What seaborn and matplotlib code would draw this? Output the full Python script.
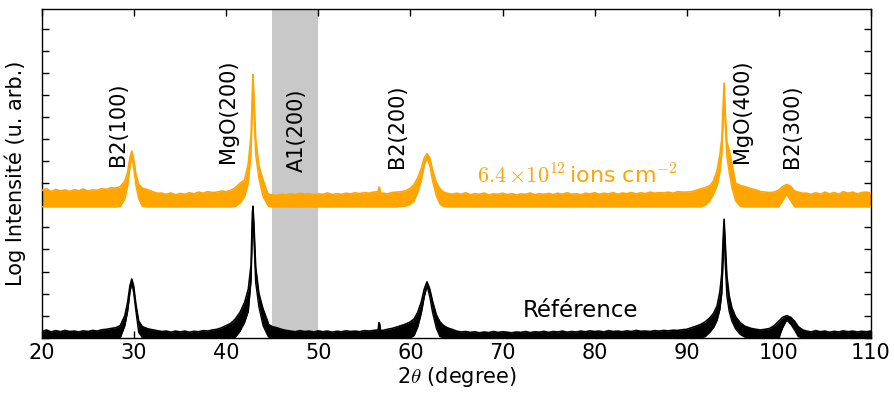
import numpy as np
import pandas as pd
import matplotlib
matplotlib.use("Agg")
import matplotlib.pyplot as plt
import seaborn as sns

# ---------------- data ----------------
two_theta = [
    20.0, 20.5, 21.0, 21.5, 22.0, 22.5, 23.0, 23.5, 24.0, 24.5, 25.0, 25.5, 26.0, 26.5, 27.0, 27.5,
    28.0, 28.5, 29.0, 29.3, 29.55, 29.75, 29.95, 30.2, 30.5, 30.9, 31.5, 32.0, 32.5,
    33.0, 33.5, 34.0, 34.5, 35.0, 35.5, 36.0, 36.5, 37.0, 37.5, 38.0, 38.5, 39.0, 39.5,
    40.0, 40.5, 41.0, 41.5, 42.0, 42.4, 42.7, 42.84, 42.9, 43.0, 43.2, 43.55, 44.0, 44.45, 44.6, 45.0,
    45.5, 46.0, 46.5, 47.0, 47.5, 48.0, 48.5, 49.0, 49.5, 50.0, 50.5, 51.0, 51.5, 52.0, 52.5, 53.0,
    53.5, 54.0, 54.5, 55.0, 55.5, 56.0, 56.5,
    56.58, 56.66, 56.75,
    57.0, 57.5, 58.0, 58.5, 59.0, 59.5, 60.0, 60.4, 60.8, 61.2, 61.5, 61.8, 62.1, 62.4, 62.8, 63.2,
    63.6, 64.0, 64.5,
    65.0, 65.5, 66.0, 66.5, 67.0, 67.5, 68.0, 68.5, 69.0, 69.5,
    70.0, 70.5, 71.0, 71.5, 72.0, 72.5, 73.0, 73.5, 74.0, 74.5,
    75.0, 75.5, 76.0, 76.5, 77.0, 77.5, 78.0, 78.5, 79.0, 79.5,
    80.0, 80.5, 81.0, 81.5, 82.0, 82.5, 83.0, 83.5, 84.0, 84.5,
    85.0, 85.5, 86.0, 86.5, 87.0, 87.5, 88.0, 88.5, 89.0, 89.5,
    90.0, 90.5, 91.0, 91.5, 92.0, 92.5, 92.9, 93.3, 93.6, 93.8, 93.95, 94.05, 94.15, 94.35, 94.6,
    94.9, 95.3, 95.8, 96.3, 97.0, 97.5, 98.0, 98.5, 99.0, 99.5, 100.0, 100.4, 100.85, 101.3, 101.7,
    102.1, 102.6,
    103.0, 103.5, 104.0, 104.5, 105.0, 105.5, 106.0, 106.5, 107.0, 107.5, 108.0, 108.5, 109.0, 109.5, 110.0,
]

# Reference sample (black): lower and upper edge of the noisy trace
ref_low = [
    0, 0, 0, 0, 0, 0, 0, 0, 0, 0, 0, 0, 0, 0, 0, 0,
    0, 0, 0.55, 1.2, 2.05, 2.5, 2.05, 1.2, 0.25, 0, 0, 0, 0,
    0, 0, 0, 0, 0, 0, 0, 0, 0, 0, 0, 0, 0, 0,
    0, 0, 0.03, 0.3, 0.7, 1.2, 2.6, 5.0, 5.8, 4.6, 2.5, 1.4, 0.55, 0.15, 0.03, 0,
    0, 0, 0, 0, 0, 0, 0, 0, 0, 0, 0, 0, 0, 0, 0, 0,
    0, 0, 0, 0, 0, 0, 0,
    0, 0, 0,
    0, 0, 0, 0, 0, 0, 0, 0.1, 0.5, 1.15, 1.85, 2.35, 1.85, 1.15, 0.45, 0.05,
    0, 0, 0,
    0, 0, 0, 0, 0, 0, 0, 0, 0, 0,
    0, 0, 0, 0, 0, 0, 0, 0, 0, 0,
    0, 0, 0, 0, 0, 0, 0, 0, 0, 0,
    0, 0, 0, 0, 0, 0, 0, 0, 0, 0,
    0, 0, 0, 0, 0, 0, 0, 0, 0, 0,
    0, 0, 0, 0, 0.05, 0.25, 0.45, 0.8, 1.3, 2.0, 3.6, 5.2, 3.6, 1.9, 1.2,
    0.75, 0.4, 0.15, 0.03, 0, 0, 0, 0, 0, 0, 0, 0.45, 0.8, 0.6, 0.35,
    0.05, 0,
    0, 0, 0, 0, 0, 0, 0, 0, 0, 0, 0, 0, 0, 0, 0,
]
ref_high = [
    0.28, 0.35, 0.26, 0.32, 0.27, 0.33, 0.28, 0.3, 0.26, 0.31, 0.28, 0.33, 0.3, 0.36, 0.38, 0.42,
    0.45, 0.55, 1.0, 1.6, 2.35, 2.66, 2.35, 1.5, 0.75, 0.5, 0.4, 0.36, 0.32,
    0.28, 0.3, 0.25, 0.3, 0.26, 0.3, 0.25, 0.29, 0.27, 0.32, 0.3, 0.35, 0.38, 0.45,
    0.55, 0.65, 0.85, 1.15, 1.6, 2.2, 3.3, 5.6, 5.96, 5.2, 3.2, 2.0, 1.3, 0.8, 0.6, 0.5,
    0.45, 0.38, 0.33, 0.3, 0.27, 0.32, 0.28, 0.3, 0.26, 0.31, 0.27, 0.3, 0.25, 0.29, 0.27, 0.31,
    0.28, 0.3, 0.27, 0.32, 0.3, 0.33, 0.35,
    0.68, 0.62, 0.33,
    0.33, 0.38, 0.42, 0.48, 0.55, 0.62, 0.72, 0.85, 1.15, 1.65, 2.2, 2.53, 2.2, 1.65, 1.05, 0.72,
    0.55, 0.45, 0.38,
    0.3, 0.26, 0.28, 0.24, 0.27, 0.22, 0.26, 0.23, 0.28, 0.24,
    0.27, 0.25, 0.22, 0.26, 0.24, 0.28, 0.23, 0.27, 0.25, 0.29,
    0.24, 0.28, 0.26, 0.3, 0.25, 0.28, 0.26, 0.3, 0.27, 0.31,
    0.28, 0.3, 0.26, 0.32, 0.28, 0.3, 0.27, 0.31, 0.28, 0.33,
    0.29, 0.3, 0.28, 0.32, 0.3, 0.33, 0.31, 0.34, 0.33, 0.36,
    0.38, 0.45, 0.52, 0.6, 0.72, 0.9, 1.1, 1.45, 2.1, 2.9, 4.5, 5.37, 4.5, 2.8, 1.9,
    1.35, 0.95, 0.68, 0.52, 0.42, 0.38, 0.35, 0.38, 0.42, 0.55, 0.75, 0.92, 1.0, 0.92, 0.75,
    0.5, 0.35,
    0.3, 0.26, 0.32, 0.27, 0.3, 0.25, 0.29, 0.26, 0.31, 0.27, 0.3, 0.26, 0.29, 0.27, 0.3,
]

# Irradiated sample (orange, 6.4e12 ions/cm2), offset above the reference
irr_low = [
    5.93, 5.93, 5.93, 5.93, 5.93, 5.93, 5.93, 5.93, 5.93, 5.93, 5.93, 5.93, 5.93, 5.93, 5.93, 5.93,
    5.93, 5.95, 6.3, 6.9, 7.7, 8.25, 7.7, 6.9, 6.3, 5.95, 5.93, 5.93, 5.93,
    5.93, 5.93, 5.93, 5.93, 5.93, 5.93, 5.93, 5.93, 5.93, 5.93, 5.93, 5.93, 5.93, 5.93,
    5.93, 5.93, 5.95, 6.1, 6.4, 7.0, 8.4, 10.5, 11.6, 10.3, 8.3, 7.2, 6.4, 6.05, 5.95, 5.93,
    5.93, 5.93, 5.93, 5.93, 5.93, 5.93, 5.93, 5.93, 5.93, 5.93, 5.93, 5.93, 5.93, 5.93, 5.93, 5.93,
    5.93, 5.93, 5.93, 5.93, 5.93, 5.93, 5.93,
    5.93, 5.93, 5.93,
    5.93, 5.93, 5.93, 5.93, 5.95, 5.97, 6.05, 6.2, 6.6, 7.15, 7.8, 8.15, 7.8, 7.1, 6.45, 6.05,
    5.95, 5.93, 5.93,
    5.93, 5.93, 5.93, 5.93, 5.93, 5.93, 5.93, 5.93, 5.93, 5.93,
    5.93, 5.93, 5.93, 5.93, 5.93, 5.93, 5.93, 5.93, 5.93, 5.93,
    5.93, 5.93, 5.93, 5.93, 5.93, 5.93, 5.93, 5.93, 5.93, 5.93,
    5.93, 5.93, 5.93, 5.93, 5.93, 5.93, 5.93, 5.93, 5.93, 5.93,
    5.93, 5.93, 5.93, 5.93, 5.93, 5.93, 5.93, 5.93, 5.93, 5.93,
    5.93, 5.93, 5.93, 5.93, 6.0, 6.2, 6.5, 6.9, 7.5, 8.3, 9.8, 11.3, 9.8, 8.2, 7.5,
    6.8, 6.2, 5.95, 5.93, 5.93, 5.93, 5.93, 5.93, 5.93, 5.93, 5.93, 6.2, 6.5, 6.2, 5.93,
    5.93, 5.93,
    5.93, 5.93, 5.93, 5.93, 5.93, 5.93, 5.93, 5.93, 5.93, 5.93, 5.93, 5.93, 5.93, 5.93, 5.93,
]
irr_high = [
    6.68, 6.75, 6.62, 6.72, 6.65, 6.7, 6.63, 6.71, 6.66, 6.74, 6.64, 6.7, 6.68, 6.76, 6.72, 6.8,
    6.78, 6.85, 7.1, 7.5, 8.15, 8.46, 8.1, 7.4, 6.95, 6.78, 6.7, 6.62, 6.55,
    6.55, 6.5, 6.56, 6.48, 6.54, 6.5, 6.57, 6.52, 6.6, 6.55, 6.62, 6.58, 6.6, 6.65,
    6.62, 6.68, 6.8, 7.0, 7.15, 7.9, 9.2, 11.2, 11.93, 11.0, 9.0, 7.8, 7.15, 6.6, 6.5, 6.48,
    6.45, 6.5, 6.47, 6.52, 6.48, 6.55, 6.5, 6.53, 6.47, 6.52, 6.5, 6.56, 6.49, 6.53, 6.5, 6.55,
    6.52, 6.57, 6.53, 6.58, 6.55, 6.6, 6.62,
    6.83, 6.78, 6.55,
    6.55, 6.52, 6.58, 6.6, 6.62, 6.66, 6.78, 6.95, 7.25, 7.7, 8.15, 8.34, 8.15, 7.6, 7.05, 6.75,
    6.6, 6.55, 6.5,
    6.55, 6.5, 6.57, 6.48, 6.53, 6.5, 6.56, 6.47, 6.52, 6.5,
    6.55, 6.49, 6.53, 6.47, 6.52, 6.5, 6.56, 6.48, 6.53, 6.5,
    6.54, 6.49, 6.55, 6.5, 6.57, 6.5, 6.53, 6.48, 6.55, 6.52,
    6.57, 6.5, 6.55, 6.52, 6.58, 6.5, 6.56, 6.53, 6.58, 6.52,
    6.57, 6.53, 6.6, 6.55, 6.58, 6.56, 6.6, 6.55, 6.62, 6.6,
    6.6, 6.62, 6.68, 6.75, 6.8, 6.9, 7.1, 7.6, 8.3, 9.0, 10.6, 11.54, 10.4, 8.9, 8.5,
    7.9, 7.0, 6.9, 6.85, 6.75, 6.7, 6.62, 6.6, 6.58, 6.6, 6.7, 6.85, 6.95, 6.85, 6.65,
    6.6, 6.55,
    6.55, 6.5, 6.57, 6.5, 6.6, 6.52, 6.58, 6.5, 6.62, 6.55, 6.6, 6.52, 6.58, 6.6, 6.55,
]

peak_labels = ["B2(100)", "MgO(200)", "A1(200)", "B2(200)", "MgO(400)", "B2(300)"]
peak_label_x = [28.3, 40.2, 47.7, 58.55, 96.0, 101.4]
peak_label_y = [7.8, 7.9, 7.5, 7.7, 7.9, 7.7]

x_ticks = [20, 30, 40, 50, 60, 70, 80, 90, 100, 110]
series_names = ["Référence", "6.4e12"]
series_colors = ["black", "#FFA500"]

assert len(two_theta) == len(ref_low) == len(ref_high) == len(irr_low) == len(irr_high)

# ---------------- plot ----------------
sns.set_style("ticks")
plt.rcParams["font.family"] = ["DejaVu Sans"]
plt.rcParams["mathtext.fontset"] = "cm"
plt.rcParams["text.color"] = "black"
plt.rcParams["axes.labelcolor"] = "black"
plt.rcParams["xtick.color"] = "black"
plt.rcParams["ytick.color"] = "black"

fig = plt.figure(figsize=(8.95, 3.96), dpi=100)
ax = fig.add_axes([0.0469, 0.1472, 0.9263, 0.8301])

ax.axvspan(45, 50, color="#c8c8c8", lw=0, zorder=0)

df = pd.DataFrame({
    "two_theta": two_theta * 2,
    "low": ref_low + irr_low,
    "high": ref_high + irr_high,
    "sample": [series_names[0]] * len(two_theta) + [series_names[1]] * len(two_theta),
})
palette = dict(zip(series_names, series_colors))

for name in series_names:
    sub = df[df["sample"] == name]
    ax.fill_between(sub["two_theta"], sub["low"], sub["high"], color=palette[name],
                    lw=0, zorder=2)
sns.lineplot(data=df, x="two_theta", y="high", hue="sample", palette=palette,
             lw=1.2, legend=False, ax=ax, zorder=3, estimator=None)
sns.lineplot(data=df, x="two_theta", y="low", hue="sample", palette=palette,
             lw=1.0, legend=False, ax=ax, zorder=3, estimator=None)

for lab, lx, ly in zip(peak_labels, peak_label_x, peak_label_y):
    ax.text(lx, ly, lab, rotation=90, ha="center", va="bottom", fontsize=15,
            color="black", zorder=4)

ax.text(72.2, 0.93, "Référence", fontsize=16.5, ha="left", va="baseline", color="black")
ax.text(67.2, 7.0, r"$6.4\,{\times}10^{12}\,$ions cm$^{-2}$", fontsize=16, ha="left",
        va="baseline", color="#FFA500")

ax.set_xlim(20, 110)
ax.set_ylim(0, 14.9)
ax.set_xticks(x_ticks)
ax.set_yticks(range(0, 15))
ax.set_yticklabels([])
ax.tick_params(direction="in", top=True, right=True, length=5, width=1,
               labelsize=15, color="black", labelcolor="black")
for sp in ax.spines.values():
    sp.set_color("black")
    sp.set_linewidth(1.0)
ax.set_xlabel(r"2$\theta$ (degree)", fontsize=15, labelpad=2, color="black")
ax.set_ylabel("Log Intensité (u. arb.)", fontsize=15, labelpad=8, color="black")

fig.savefig("out.png", dpi=100)
